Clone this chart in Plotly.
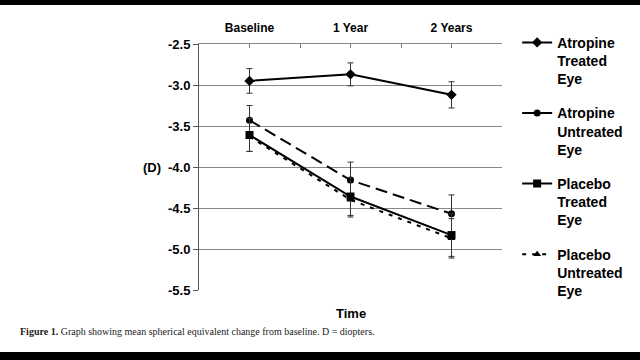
import plotly.graph_objects as go

categories = ["Baseline", "1 Year", "2 Years"]
x_pos = [0, 1, 2]

atropine_treated = [-2.95, -2.87, -3.12]
atropine_treated_err = [0.15, 0.14, 0.16]
atropine_untreated = [-3.43, -4.16, -4.57]
atropine_untreated_err = [0.18, 0.22, 0.23]
placebo_treated = [-3.61, -4.36, -4.83]
placebo_treated_err = [0.20, 0.23, 0.26]
placebo_untreated = [-3.63, -4.40, -4.87]
placebo_untreated_err = [0.18, 0.21, 0.24]

y_ticks = [-2.5, -3.0, -3.5, -4.0, -4.5, -5.0, -5.5]
y_tick_labels = [f"{v:.1f}" for v in y_ticks]

series = [
    ("Atropine<br>Treated<br>Eye", atropine_treated, atropine_treated_err, "solid", "diamond", 8),
    ("Atropine<br>Untreated<br>Eye", atropine_untreated, atropine_untreated_err, "12px,6px", "circle", 7),
    ("Placebo<br>Treated<br>Eye", placebo_treated, placebo_treated_err, "solid", "square", 8),
    ("Placebo<br>Untreated<br>Eye", placebo_untreated, placebo_untreated_err, "4px,6px", "triangle-up", 7),
]

fig = go.Figure()
order = [3, 1, 2, 0]
for i in order:
    name, y, err, dash, sym, size = series[i]
    fig.add_trace(go.Scatter(
        x=x_pos, y=y, name=name, mode="lines+markers",
        line=dict(color="black", width=2, dash=dash),
        marker=dict(symbol=sym, size=size, color="black"),
        error_y=dict(type="data", array=err, visible=True, color="#333333", thickness=1, width=3),
        legendgroup=f"g{i}", legendrank=i + 1,
    ))

half_ticks = [-0.5, 0, 0.5, 1, 1.5, 2, 2.5]
half_text = ["", categories[0], "", categories[1], "", categories[2], ""]

fig.update_layout(
    width=640, height=360,
    margin=dict(l=199, r=138, t=44, b=70),
    paper_bgcolor="white", plot_bgcolor="white",
    font=dict(family="Liberation Sans, Arial, sans-serif", color="black"),
    xaxis=dict(
        range=[-0.5, 2.5], side="top", tickvals=half_ticks, ticktext=half_text,
        ticks="inside", ticklen=4, tickcolor="#777777", showgrid=False, zeroline=False,
        showline=True, linecolor="#888888", linewidth=1,
        tickfont=dict(size=12, family="Liberation Sans, Arial, sans-serif", weight="bold"),
        ticklabelstandoff=6,
    ),
    yaxis=dict(
        range=[-5.5, -2.5], tickvals=y_ticks, ticktext=y_tick_labels,
        ticks="outside", ticklen=5, tickcolor="#555555",
        showgrid=True, gridcolor="#888888", gridwidth=1, zeroline=False,
        showline=True, linecolor="#555555", linewidth=1,
        tickfont=dict(size=13, family="Liberation Sans, Arial, sans-serif", weight="bold"),
    ),
    legend=dict(
        x=1.05, y=1.07, xanchor="left", yanchor="top",
        font=dict(size=14, family="Liberation Sans, Arial, sans-serif", weight="bold"),
        valign="top", traceorder="grouped", tracegroupgap=13,
        bgcolor="rgba(0,0,0,0)", itemwidth=30, maxheight=400,
    ),
    showlegend=True,
)

fig.add_annotation(text="(D)", xref="paper", yref="y", x=(152 - 199) / 303, y=-4.0,
                   xanchor="center", showarrow=False,
                   font=dict(size=13, weight="bold"))
fig.add_annotation(text="Time", xref="paper", yref="paper", x=0.5, y=(290 - 313) / 246,
                   xanchor="center", yanchor="middle", showarrow=False,
                   font=dict(size=13, weight="bold"))
fig.add_annotation(text="<b>Figure 1.</b> Graph showing mean spherical equivalent change from baseline. D = diopters.",
                   xref="paper", yref="paper", x=(18 - 199) / 303, y=(290 - 331) / 246,
                   xanchor="left", yanchor="middle", showarrow=False,
                   font=dict(size=10, family="Liberation Serif, Times New Roman, serif", color="#222222"))

# black bands top and bottom (photo framing)
fig.add_shape(type="rect", xref="paper", yref="paper",
              x0=-199 / 303, x1=(640 - 199) / 303, y0=1 + 39 / 246, y1=1 + 44 / 246,
              fillcolor="black", line=dict(width=0), layer="above")
fig.add_shape(type="rect", xref="paper", yref="paper",
              x0=-199 / 303, x1=(640 - 199) / 303, y0=(290 - 360) / 246, y1=(290 - 352) / 246,
              fillcolor="black", line=dict(width=0), layer="above")

fig.write_html("out.html")
